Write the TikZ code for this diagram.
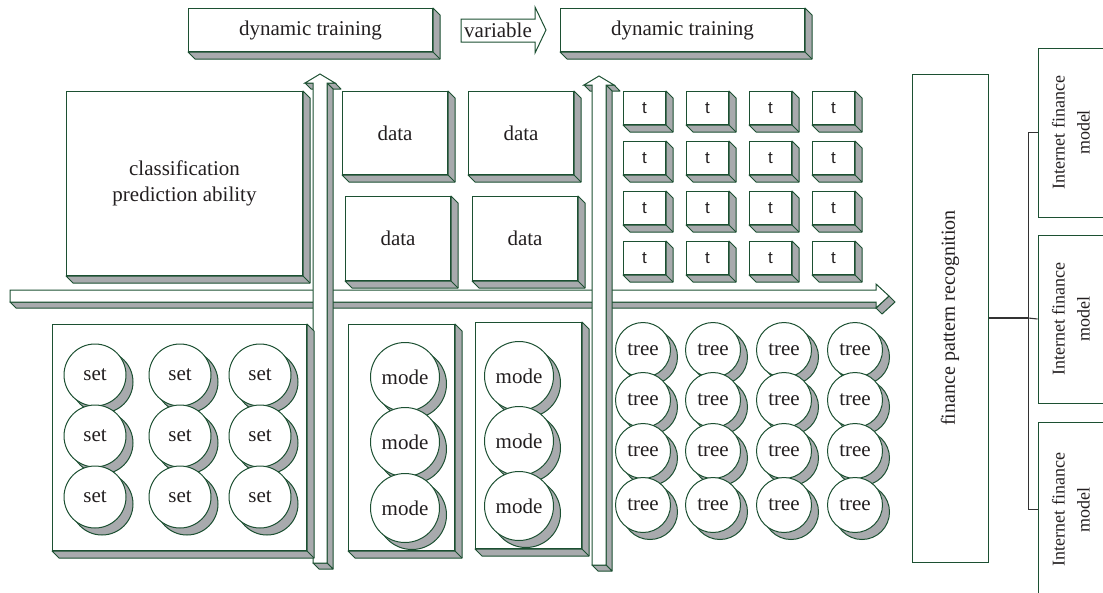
\documentclass[tikz,border=0pt]{standalone}
\usepackage{fontspec}
\setmainfont{Liberation Serif}
\newfontfamily\sansfam{Liberation Sans}
\usepackage{graphicx}
\usetikzlibrary{calc,shadows}

\definecolor{edge}{RGB}{28,80,50}
\definecolor{sidegray}{RGB}{168,170,173}
\definecolor{ink}{RGB}{35,31,32}

\tikzset{
  face/.style={draw=edge, fill=white, line width=1pt, inner sep=0pt, text=ink},
  blk/.style 2 args={face, anchor=north west, minimum width=#1, minimum height=#2},
  ball/.style={face, circle, minimum size=#1,
    drop shadow={shadow xshift=7pt, shadow yshift=-7pt, fill=sidegray, draw=edge, opacity=1}},
  bevel/.style={draw=edge, fill=sidegray, line width=1pt, line join=round},
  link/.style={draw=black!80, line width=1.1pt},
}

% gray depth on the lower right of a box node
\newcommand\extrude[2][7pt]{%
  \draw[bevel] (#2.north east) -- ++(#1,-#1) |- ($(#2.south west)+(#1,-#1)$)
    -- (#2.south west) -- (#2.south east) -- cycle;
  \draw[bevel] (#2.south east) -- ++(#1,-#1);}

\begin{document}
\begin{tikzpicture}[x=1pt,y=-1pt,font=\fontsize{21}{26}\selectfont]
\useasboundingbox (0,0) rectangle (1103,592);

\node[blk={244pt}{43pt}] (dt1) at (188,8) {dynamic training};
\extrude{dt1}
\node[blk={244pt}{43pt}] (dt2) at (560,8) {dynamic training};
\extrude{dt2}
\draw[face] (461,19) -- (535,19) -- (535,7) -- (546,30) -- (535,53) -- (535,42) -- (461,42) -- cycle;
\node[text=ink] (var) at (498,30.5) {variable};

\node[blk={236pt}{184pt}, align=center] (cls) at (66,91) {classification\\prediction ability};
\extrude{cls}

\node[blk={105pt}{83pt}] (data1) at (342,91) {data};
\node[blk={105pt}{83pt}] (data2) at (468,91) {data};
\node[blk={105pt}{84pt}] (data3) at (345,196) {data};
\node[blk={105pt}{84pt}] (data4) at (472,196) {data};
\foreach \n in {data1,data2,data3,data4} {\extrude{\n}}

\foreach \c in {0,...,3} {
  \foreach \r in {0,...,3} {
    \node[blk={42pt}{33pt}, font=\sansfam\fontsize{17}{19}\selectfont] (t\r\c) at ({623+63*\c},{91+50*\r}) {t};
    \extrude{t\r\c}
  }
}

% horizontal bar
\draw[bevel] (10,302) -- (876,302) -- (882,308) -- (16,308) -- cycle;
\draw[bevel] (876,308) -- (889,296) -- (895,302) -- (882,314) -- cycle;
\draw[face] (10,290) -- (876,290) -- (876,284) -- (889,296) -- (876,308) -- (876,302) -- (10,302) -- cycle;

% vertical bars
\foreach \xa/\tip/\yb in {313/74/563, 592/76/565} {
  \draw[bevel] ({\xa+14},{\tip+9}) -- ({\xa+22},{\tip+9}) -- ({\xa+28},{\tip+15}) -- ({\xa+20},{\tip+15}) -- cycle;
  \draw[bevel] ({\xa-8},{\tip+9}) -- (\xa,{\tip+9}) -- ({\xa+6},{\tip+15}) -- ({\xa-2},{\tip+15}) -- cycle;
  \draw[bevel] ({\xa+14},{\tip+9}) -- ({\xa+20},{\tip+15}) -- ({\xa+20},{\yb+6}) -- ({\xa+14},\yb) -- cycle;
  \draw[bevel] (\xa,\yb) -- ({\xa+14},\yb) -- ({\xa+20},{\yb+6}) -- ({\xa+6},{\yb+6}) -- cycle;
  \draw[face] (\xa,\yb) -- (\xa,{\tip+9}) -- ({\xa-8},{\tip+9}) -- ({\xa+7},\tip) -- ({\xa+22},{\tip+9})
    -- ({\xa+14},{\tip+9}) -- ({\xa+14},\yb) -- cycle;
}

\node[blk={254pt}{226pt}] (setbox) at (52,324) {};
\extrude{setbox}
\node[blk={106pt}{226pt}] (modebox1) at (348,324) {};
\extrude{modebox1}
\node[blk={106pt}{226pt}] (modebox2) at (475,322) {};
\extrude{modebox2}

\foreach \x [count=\i] in {95,180,260} {
  \foreach \y [count=\j] in {375,436,497} {
    \node[ball=62pt] (set\j\i) at (\x,\y) {set};
  }
}
\foreach \y [count=\j] in {377,442,508} {\node[ball=69pt] (mode1\j) at (405,\y) {mode};}
\foreach \y [count=\j] in {376,441,506} {\node[ball=69pt] (mode2\j) at (519,\y) {mode};}

\foreach \x [count=\i] in {643,713,784,855} {
  \foreach \y [count=\j] in {350,400,451,505} {
    \node[ball=55pt] (tree\j\i) at (\x,\y) {tree};
  }
}

\node[face, minimum width=76pt, minimum height=488pt, font=\fontsize{20}{24}\selectfont] (fpr) at (950,318)
  {\rotatebox{90}{finance pattern recognition}};
\node[face, minimum width=68pt, minimum height=169pt, font=\fontsize{18}{25}\selectfont] (im1) at (1072,132.5)
  {\rotatebox{90}{\begin{tabular}{@{}c@{}}Internet finance\\model\end{tabular}}};
\node[face, minimum width=68pt, minimum height=168pt, font=\fontsize{18}{25}\selectfont] (im2) at (1072,319)
  {\rotatebox{90}{\begin{tabular}{@{}c@{}}Internet finance\\model\end{tabular}}};
\node[face, minimum width=68pt, minimum height=175pt, font=\fontsize{18}{25}\selectfont] (im3) at (1072,509.5)
  {\rotatebox{90}{\begin{tabular}{@{}c@{}}Internet finance\\model\end{tabular}}};

\draw[link] (fpr.east) -- ++(40pt,0) coordinate (hub);
\draw[link] (im1.west) -| (hub) |- (im3.west);
\draw[link] (hub) -- (im2.west);
\end{tikzpicture}
\end{document}
